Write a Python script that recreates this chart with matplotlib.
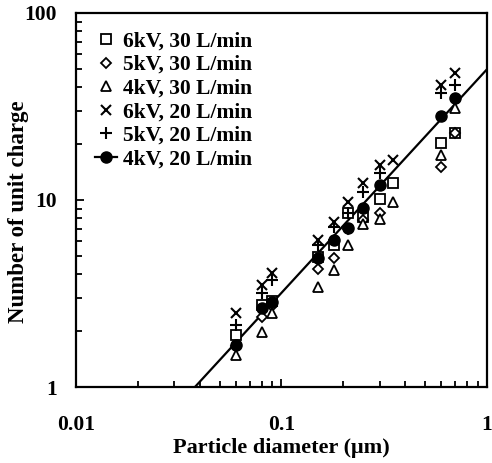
import matplotlib
matplotlib.use("Agg")
import matplotlib.pyplot as plt
from matplotlib.lines import Line2D
from matplotlib.ticker import LogLocator, NullFormatter, FixedLocator, FixedFormatter

plt.rcParams['font.family'] = ['Liberation Serif', 'DejaVu Serif']
plt.rcParams['font.weight'] = 'bold'

# Data (particle diameter in um, number of unit charge)
x_6kv30 = [0.06, 0.08, 0.09, 0.15, 0.18, 0.21, 0.25, 0.30, 0.35, 0.60, 0.70]
y_6kv30 = [1.90, 2.75, 2.90, 4.95, 5.75, 8.50, 8.10, 10.1, 12.3, 20.2, 22.8]

x_5kv30 = [0.06, 0.08, 0.09, 0.15, 0.18, 0.21, 0.25, 0.30, 0.60, 0.70]
y_5kv30 = [1.65, 2.37, 2.70, 4.30, 4.90, 7.00, 7.80, 8.50, 15.0, 22.8]

x_4kv30 = [0.06, 0.08, 0.09, 0.15, 0.18, 0.21, 0.25, 0.30, 0.35, 0.60, 0.70]
y_4kv30 = [1.48, 1.97, 2.50, 3.43, 4.20, 5.75, 7.40, 7.90, 9.80, 17.4, 31.0]

x_6kv20 = [0.06, 0.08, 0.09, 0.15, 0.18, 0.21, 0.25, 0.30, 0.35, 0.60, 0.70]
y_6kv20 = [2.49, 3.50, 4.07, 6.10, 7.60, 9.76, 12.3, 15.4, 16.4, 41.2, 47.8]

x_5kv20 = [0.06, 0.08, 0.09, 0.15, 0.18, 0.21, 0.25, 0.30, 0.60, 0.70]
y_5kv20 = [2.15, 3.20, 3.73, 5.75, 7.20, 8.50, 11.1, 14.0, 37.3, 41.0]

x_4kv20 = [0.06, 0.08, 0.09, 0.15, 0.18, 0.21, 0.25, 0.30, 0.60, 0.70]
y_4kv20 = [1.68, 2.65, 2.85, 4.90, 6.10, 7.10, 9.10, 12.0, 28.1, 35.2]

# Fitted line endpoints
fit_x = [0.0379, 1.0]
fit_y = [1.0, 50.0]

labels = ['6kV, 30 L/min', '5kV, 30 L/min', '4kV, 30 L/min',
          '6kV, 20 L/min', '5kV, 20 L/min', '4kV, 20 L/min']

fig = plt.figure(figsize=(4.92, 4.63), dpi=100)
ax = fig.add_axes([0.1545, 0.1641, 0.8353, 0.8079])

ax.plot(fit_x, fit_y, color='black', lw=1.6, zorder=2)

kw_open = dict(linestyle='none', markerfacecolor='white', markeredgecolor='black',
               markeredgewidth=1.3, zorder=3)
ax.plot(x_6kv30, y_6kv30, marker='s', markersize=6.5, **kw_open)
ax.plot(x_5kv30, y_5kv30, marker='D', markersize=5.5, **kw_open)
ax.plot(x_4kv30, y_4kv30, marker='^', markersize=7, **kw_open)
ax.plot(x_6kv20, y_6kv20, marker='x', markersize=7.5, linestyle='none', color='black',
        markeredgewidth=1.5, zorder=3)
ax.plot(x_5kv20, y_5kv20, marker='+', markersize=8, linestyle='none', color='black',
        markeredgewidth=1.5, zorder=3)
ax.plot(x_4kv20, y_4kv20, marker='o', markersize=8, linestyle='none', color='black', zorder=4)

ax.set_xscale('log')
ax.set_yscale('log')
ax.set_xlim(0.01, 1)
ax.set_ylim(1, 100)

ax.xaxis.set_major_locator(FixedLocator([0.01, 0.1, 1]))
ax.xaxis.set_major_formatter(FixedFormatter(['0.01', '0.1', '1']))
ax.yaxis.set_major_locator(FixedLocator([1, 10, 100]))
ax.yaxis.set_major_formatter(FixedFormatter(['1', '10', '100']))
ax.xaxis.set_minor_locator(LogLocator(base=10, subs=range(2, 10)))
ax.yaxis.set_minor_locator(LogLocator(base=10, subs=range(2, 10)))
ax.xaxis.set_minor_formatter(NullFormatter())
ax.yaxis.set_minor_formatter(NullFormatter())

ax.tick_params(axis='both', which='both', direction='in', labelsize=15.5,
               width=1.3, top=False, right=False)
ax.tick_params(axis='both', which='major', length=6)
ax.tick_params(axis='both', which='minor', length=4)
ax.tick_params(axis='x', which='major', pad=20)
ax.tick_params(axis='y', which='major', pad=14)
for lab in ax.get_xticklabels() + ax.get_yticklabels():
    lab.set_fontweight('bold')

for s in ax.spines.values():
    s.set_linewidth(1.6)

ax.set_xlabel('Particle diameter (\u03bcm)', fontsize=16, fontweight='bold')
ax.xaxis.set_label_coords(0.5, -0.137)
ax.set_ylabel('Number of unit charge', fontsize=16.5, fontweight='bold')
ax.yaxis.set_label_coords(-0.115, 0.468)

handles = [
    Line2D([], [], marker='s', markersize=6.5, **kw_open),
    Line2D([], [], marker='D', markersize=5.5, **kw_open),
    Line2D([], [], marker='^', markersize=7, **kw_open),
    Line2D([], [], marker='x', markersize=7.5, linestyle='none', color='black', markeredgewidth=1.5),
    Line2D([], [], marker='+', markersize=8, linestyle='none', color='black', markeredgewidth=1.5),
    Line2D([], [], marker='o', markersize=8, color='black', lw=1.6),
]
leg = ax.legend(handles, labels, loc='upper left', bbox_to_anchor=(0.015, 0.985),
                frameon=False, handlelength=1.0, handletextpad=0.3,
                labelspacing=0.16, prop={'family': 'Liberation Serif', 'weight': 'bold', 'size': 15.5},
                borderaxespad=0.2)

fig.savefig('out.png', dpi=100)
